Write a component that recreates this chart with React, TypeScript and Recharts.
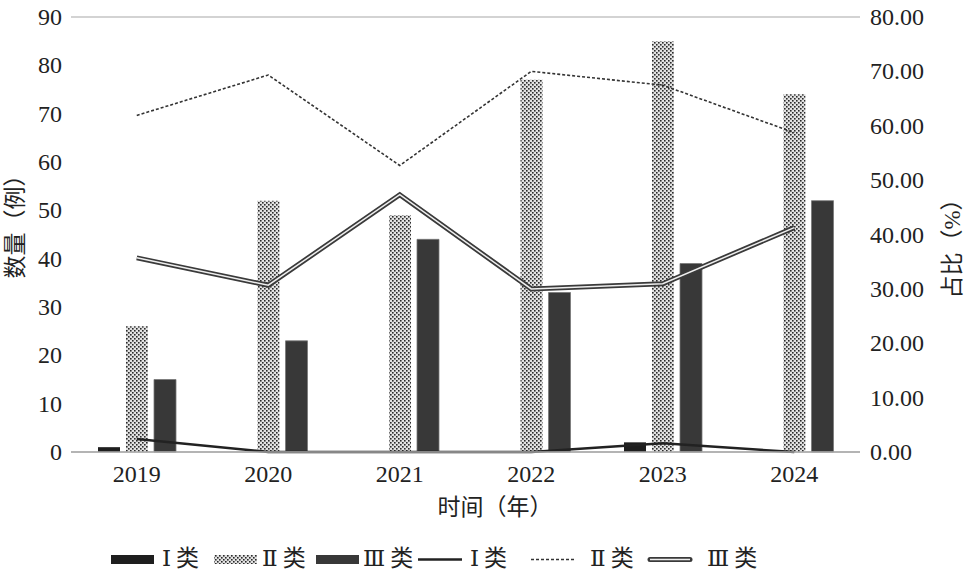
import React from 'react';
import { ComposedChart, Bar, Line, XAxis, YAxis, CartesianGrid, Label } from 'recharts';

const years = ['2019', '2020', '2021', '2022', '2023', '2024'];
const countI = [1, 0, 0, 0, 2, 0];
const countII = [26, 52, 49, 77, 85, 74];
const countIII = [15, 23, 44, 33, 39, 52];
const pctI = [2.38, 0, 0, 0, 1.59, 0];
const pctII = [61.9, 69.33, 52.69, 70.0, 67.46, 58.73];
const pctIII = [35.71, 30.67, 47.31, 30.0, 30.95, 41.27];
const leftTicks = [0, 10, 20, 30, 40, 50, 60, 70, 80, 90];
const rightTicks = [0, 10, 20, 30, 40, 50, 60, 70, 80];

const data = years.map((year, i) => ({
  year,
  countI: countI[i],
  countII: countII[i],
  countIII: countIII[i],
  pctI: pctI[i],
  pctII: pctII[i],
  pctIII: pctIII[i],
}));

const FONT = 'Liberation Serif, DejaVu Serif, Noto Sans CJK SC, serif';

const Tick = (props: any) => {
  const { x, y, payload, textAnchor, tickFormatter } = props;
  const value = tickFormatter ? tickFormatter(payload.value) : payload.value;
  return (
    <text
      x={x}
      y={y}
      textAnchor={textAnchor}
      dominantBaseline="central"
      style={{ fontFamily: FONT, fontSize: 24, fill: '#222' }}
    >
      {value}
    </text>
  );
};

const XTick = (props: any) => {
  const { x, y, payload } = props;
  return (
    <text x={x} y={y + 22} textAnchor="middle" dominantBaseline="central"
      style={{ fontFamily: FONT, fontSize: 24, fill: '#222' }}>
      {payload.value}
    </text>
  );
};

const DotPattern = ({ id }: { id: string }) => (
  <pattern id={id} width="4" height="4" patternUnits="userSpaceOnUse">
    <rect width="4" height="4" fill="#e2e2e2" />
    <rect x="0" y="0" width="1.6" height="1.6" fill="#2a2a2a" />
    <rect x="2" y="2" width="1.6" height="1.6" fill="#2a2a2a" />
  </pattern>
);

const RotatedTitle = ({ x, y, text }: { x: number; y: number; text: string }) => (
  <text
    x={x}
    y={y}
    transform={`rotate(-90 ${x} ${y})`}
    textAnchor="middle"
    dominantBaseline="central"
    style={{ fontFamily: FONT, fontSize: 23, fill: '#222' }}
  >
    {text}
  </text>
);

const LegendIcon = ({ kind }: { kind: string }) => (
  <svg width={46} height={12} style={{ display: 'block' }}>
    <defs>
      <DotPattern id="dotsLegend" />
    </defs>
    {kind === 'barI' && <rect x={1} y={2} width={43} height={9} fill="#1e1e1e" />}
    {kind === 'barII' && <rect x={1} y={2} width={43} height={9} fill="url(#dotsLegend)" />}
    {kind === 'barIII' && <rect x={1} y={2} width={43} height={9} fill="#383838" />}
    {kind === 'lineI' && <line x1={1} y1={6.5} x2={45} y2={6.5} stroke="#222" strokeWidth={2.5} />}
    {kind === 'lineII' && (
      <line x1={1} y1={6.5} x2={45} y2={6.5} stroke="#333" strokeWidth={1.6} strokeDasharray="3 2" />
    )}
    {kind === 'lineIII' && (
      <g>
        <line x1={3} y1={6.5} x2={43} y2={6.5} stroke="#3a3a3a" strokeWidth={5} strokeLinecap="round" />
        <line x1={3} y1={6.5} x2={43} y2={6.5} stroke="#eee" strokeWidth={1.5} />
      </g>
    )}
  </svg>
);

const legendItems = [
  { kind: 'barI', label: 'Ⅰ类' },
  { kind: 'barII', label: 'Ⅱ类' },
  { kind: 'barIII', label: 'Ⅲ类' },
  { kind: 'lineI', label: 'Ⅰ类' },
  { kind: 'lineII', label: 'Ⅱ类' },
  { kind: 'lineIII', label: 'Ⅲ类' },
];
// where each legend icon and its text start, in px
const legendIconLeft = [110, 213, 315, 417, 530, 647];
const legendTextLeft = [162, 262, 363, 470, 590, 707];

export default function App() {
  return (
    <div style={{ position: 'absolute', left: 0, top: 0, width: 969, height: 585, background: '#fff' }}>
      <ComposedChart
        width={969}
        height={585}
        data={data}
        margin={{ top: 17, right: 0, bottom: 0, left: 0 }}
        barSize={22}
        barGap={6}
      >
        <defs>
          <DotPattern id="dots" />
        </defs>
        <CartesianGrid vertical={false} stroke="#c4c4c4" strokeWidth={1.5} />
        <XAxis
          dataKey="year"
          height={133}
          tickLine={false}
          axisLine={{ stroke: '#aaa', strokeWidth: 1.5 }}
          tick={<XTick />}
          tickSize={0}
          tickMargin={0}
        >
          <Label content={() => (
            <text x={495} y={507} textAnchor="middle" dominantBaseline="central"
              style={{ fontFamily: FONT, fontSize: 23, fill: '#222' }}>时间（年）</text>
          )} />
        </XAxis>
        <YAxis
          yAxisId="left"
          width={71}
          domain={[0, 90]}
          ticks={leftTicks}
          tickLine={false}
          axisLine={false}
          tickSize={0}
          tickMargin={9}
          tick={<Tick />}
        >
          <Label content={() => <RotatedTitle x={15} y={221} text="数量（例）" />} />
        </YAxis>
        <YAxis
          yAxisId="right"
          orientation="right"
          width={109}
          domain={[0, 80]}
          ticks={rightTicks}
          tickFormatter={(v: number) => v.toFixed(2)}
          tickLine={false}
          axisLine={false}
          tickSize={0}
          tickMargin={10}
          tick={<Tick />}
        >
          <Label content={() => <RotatedTitle x={952} y={243} text="占比（%）" />} />
        </YAxis>
        <Bar yAxisId="left" dataKey="countI" name="Ⅰ类" fill="#1e1e1e" isAnimationActive={false} />
        <Bar yAxisId="left" dataKey="countII" name="Ⅱ类" fill="url(#dots)" isAnimationActive={false} />
        <Bar yAxisId="left" dataKey="countIII" name="Ⅲ类" fill="#383838" stroke="#777" strokeWidth={0.8} isAnimationActive={false} />
        <Line yAxisId="right" dataKey="pctI" name="Ⅰ类" stroke="#222" strokeWidth={2.5} dot={false} isAnimationActive={false} />
        <Line yAxisId="right" dataKey="pctII" name="Ⅱ类" stroke="#333" strokeWidth={1.6} strokeDasharray="3 2" dot={false} isAnimationActive={false} />
        <Line yAxisId="right" dataKey="pctIII" name="Ⅲ类" stroke="#3a3a3a" strokeWidth={5} dot={false} isAnimationActive={false} />
        <Line yAxisId="right" dataKey="pctIII" legendType="none" stroke="#eee" strokeWidth={1.5} dot={false} isAnimationActive={false} />
      </ComposedChart>
      {legendItems.map((item, i) => (
        <React.Fragment key={i}>
          <div style={{ position: 'absolute', left: legendIconLeft[i], top: 553 }}>
            <LegendIcon kind={item.kind} />
          </div>
          <div
            style={{
              position: 'absolute',
              left: legendTextLeft[i],
              top: 545,
              fontFamily: FONT,
              fontSize: 23,
              lineHeight: '28px',
              letterSpacing: 5,
              color: '#222',
              whiteSpace: 'nowrap',
            }}
          >
            {item.label}
          </div>
        </React.Fragment>
      ))}
    </div>
  );
}
